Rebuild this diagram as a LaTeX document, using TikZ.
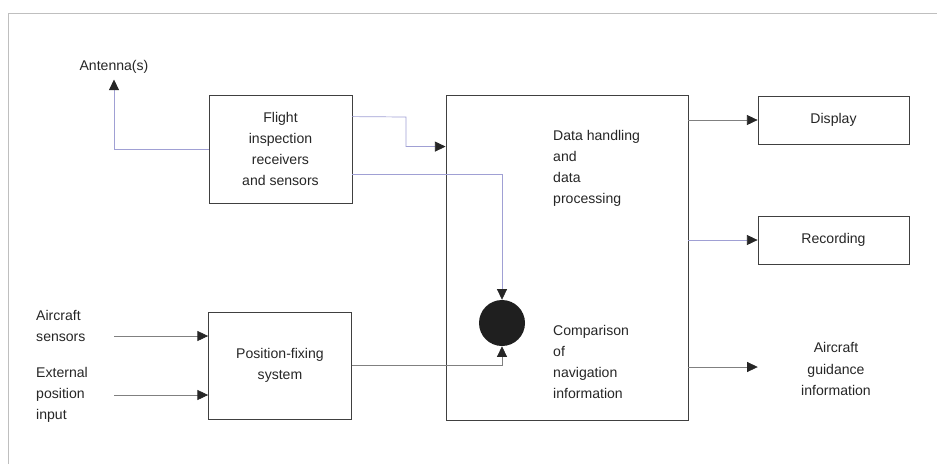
\documentclass[tikz,border=0pt]{standalone}
\usepackage{fontspec}
\setmainfont{Liberation Sans}
\usetikzlibrary{positioning,arrows.meta,calc}

\definecolor{wireblue}{RGB}{160,160,212}

\begin{document}
\begin{tikzpicture}[
    x=0.03cm, y=-0.03cm,
    every node/.style={font=\fontsize{12}{18}\selectfont, text=black!85},
    unit/.style={draw=black!75, line width=0.7pt, minimum width=4.29cm, align=center, inner sep=2pt},
    outbox/.style={draw=black!75, line width=0.7pt, minimum width=4.53cm, minimum height=1.44cm},
    lbl/.style={align=left, inner sep=0pt},
    link/.style={draw=black!50, line width=0.6pt, -{Triangle[length=3.2mm, width=3mm, color=black!85, fill=black!85]}},
    bluelink/.style={link, draw=wireblue},
    frameline/.style={draw=black!25, line width=0.6pt},
]

% Frame (top and left edges only)
\useasboundingbox (0,0) rectangle (937,464);
\draw[frameline] (8,464) -- (8,13) -- (937,13);

% Boxes
\node[unit, minimum height=3.24cm] (flight) at (280.5,149) {Flight\\inspection\\receivers\\and sensors};
\node[unit, minimum height=3.21cm] (posfix) at (280,365.5) {Position-fixing\\system};
\node[draw=black!75, line width=0.7pt, minimum width=7.26cm, minimum height=9.75cm] (main) at (567,257.5) {};
\node[outbox] (disp) at (833.5,120) {Display};
\node[outbox] (rec) at (833.5,240) {Recording};

% Comparison point
\node[circle, fill=black!88, minimum size=1.38cm, inner sep=0pt] (cmp) at (502,323) {};

% Texts
\node[inner sep=0pt, outer sep=0pt, minimum height=0.75cm] (ant) at (114,67) {Antenna(s)};
\node[lbl, anchor=west, text width=2.34cm] (sens) at (36,326) {Aircraft\\sensors};
\node[lbl, anchor=west, text width=2.34cm] (ext) at (36,395) {External\\position\\input};
\node[lbl, anchor=west] (dproc) at (553,168.5) {Data handling\\and\\data\\processing};
\node[lbl, anchor=west] (navcmp) at (553,362) {Comparison\\of\\navigation\\information};
\node[align=center, text width=4.68cm, inner sep=0pt] (guide) at (836,369) {Aircraft\\guidance\\information};

% Connectors
\draw[bluelink] (flight.west) -| (ant.south);
\draw[bluelink] ($(flight.north east)+(0,22)$) -- (406,117) |- ($(main.north west)+(0,52)$);
\draw[bluelink] ($(flight.north east)+(0,80)$) -| (cmp.north);
\draw[link] (posfix.east) -| (cmp.south);
\draw[link] ($(sens.east)+(0,10)$) coordinate (s1) -- (s1 -| posfix.west);
\draw[link] (ext.east) -- (ext.east -| posfix.west);
\draw[link] (main.east |- disp.west) -- (disp.west);
\draw[bluelink] (main.east |- rec.west) -- (rec.west);
\draw[link] (main.east |- 0,367) -- (guide.west |- 0,367);

\end{tikzpicture}
\end{document}
